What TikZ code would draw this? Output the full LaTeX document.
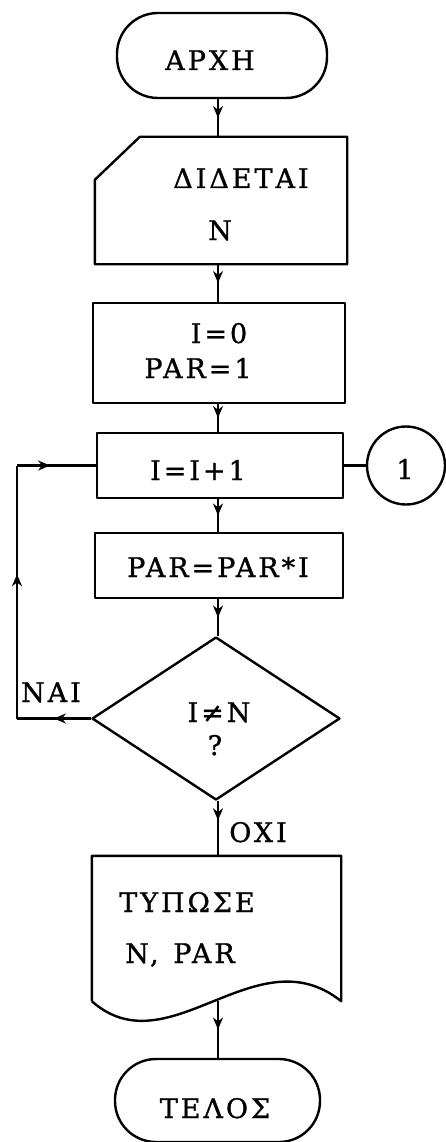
\documentclass[tikz,border=0pt]{standalone}
\usepackage{fontspec}
\setmainfont{DejaVu Serif}[LetterSpace=11,FakeBold=1]
\usetikzlibrary{shapes.geometric,decorations.markings,arrows.meta,calc}
\begin{document}
\begin{tikzpicture}[x=1pt,y=-1pt,line width=2.4pt,line join=round,
  term/.style={draw,rectangle,rounded corners=41pt,inner sep=0pt},
  box/.style={draw,rectangle,inner sep=0pt},
  hold/.style={rectangle,inner sep=0pt},
  outl/.style={draw},
  lbl/.style={font=\fontsize{27}{30}\selectfont,inner sep=0pt,anchor=base},
  flow/.style={postaction={decorate},decoration={markings,
     mark=at position #1 with {\arrow{Stealth[length=12pt,width=10pt]}}}},
  flow/.default=0.5]
\useasboundingbox (0,0) rectangle (445,1142);
\coordinate (sp) at (218,0);
% shapes
\node[term,minimum width=210pt,minimum height=85pt] (start) at (222,55.5) {};
\node[hold,minimum width=250pt,minimum height=125pt] (input) at (221,200.5) {};
\draw[outl] ($(input.north west)+(45,0)$) -- (input.north east) -- (input.south east)
   -- (input.south west) -- ($(input.north west)+(0,43)$) -- cycle;
\node[box,minimum width=252pt,minimum height=100pt] (init) at (219,353) {};
\node[box,minimum width=246pt,minimum height=65pt] (inc) at (220,465.5) {};
\node[draw,circle,minimum size=78pt,inner sep=0pt] (conn) at (406,465.5) {};
\node[box,minimum width=248pt,minimum height=65pt] (mul) at (219,565.5) {};
\node[draw,diamond,minimum width=248pt,minimum height=163pt,inner sep=0pt] (dec) at (216,718.5) {};
\node[hold,minimum width=247pt,minimum height=143pt] (doc) at (216.5,928.5) {};
\draw[outl] (doc.south west) -- (doc.north west) -- (doc.north east) -- (doc.south east)
   .. controls +(-85,-68) and +(77,68) .. (doc.south west);
\node[term,minimum width=205pt,minimum height=83pt] (end) at (217.5,1100.5) {};
% labels
\node[lbl] (tstart) at (210,70) {ΑΡΧΗ};
\node[lbl] (tin1) at (241,188) {ΔΙΔΕΤΑΙ};
\node[lbl] (tin2) at (220,240) {N};
\node[lbl] (tinit1) at (219,343) {I=0};
\node[lbl] (tinit2) at (198,378) {PAR=1};
\node[lbl] (tinc) at (198,480) {I=I+1};
\node[lbl] (tconn) at (405,479) {1};
\node[lbl] (tmul) at (218,577) {PAR=PAR*I};
\node[lbl] (tdec1) at (219,722) {I≠N};
\node[lbl] (tdec2) at (215,755) {?};
\node[lbl] (tyes) at (51,702) {NAI};
\node[lbl] (tno) at (258,842) {OXI};
\node[lbl] (tdoc1) at (187,912) {ΤΥΠΩΣΕ};
\node[lbl] (tdoc2) at (180,963) {N, \hspace{3pt}PAR};
\node[lbl] (tend) at (215,1118) {ΤΕΛΟΣ};
% connectors
\draw[flow] (sp |- start.south) -- (sp |- input.north);
\draw[flow] (sp |- input.south) -- (sp |- init.north);
\draw[flow] (sp |- init.south) -- (sp |- inc.north);
\draw[flow] (sp |- inc.south) -- (sp |- mul.north);
\draw[flow] (sp |- mul.south) -- (sp |- dec.north);
\draw[flow=0.35] (sp |- dec.south) -- (sp |- doc.north);
\draw[flow] (sp |- doc.south) -- (sp |- end.north);
\draw (inc.east) -- (conn.west);
\coordinate (c1) at (17,718.5);
\coordinate (c2) at (c1 |- inc.west);
\draw[flow] (dec.west) -- (c1);
\draw[flow=0.57] (c1) -- (c2);
\draw[flow=0.42] (c2) -- (inc.west);
\end{tikzpicture}
\end{document}
